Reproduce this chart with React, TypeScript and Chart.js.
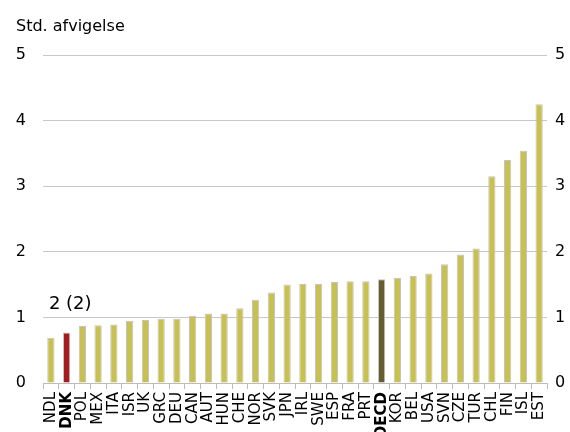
import React, { useEffect, useRef } from "react";
import { Chart, registerables } from "chart.js";

Chart.register(...registerables);

const categories = ["NDL", "DNK", "POL", "MEX", "ITA", "ISR", "UK", "GRC", "DEU", "CAN", "AUT", "HUN", "CHE", "NOR", "SVK", "JPN", "IRL", "SWE", "ESP", "FRA", "PRT", "OECD", "KOR", "BEL", "USA", "SVN", "CZE", "TUR", "CHL", "FIN", "ISL", "EST"];
const values = [0.69, 0.77, 0.87, 0.88, 0.89, 0.95, 0.96, 0.98, 0.98, 1.02, 1.06, 1.06, 1.14, 1.27, 1.38, 1.50, 1.51, 1.51, 1.54, 1.55, 1.55, 1.58, 1.60, 1.63, 1.67, 1.81, 1.96, 2.05, 3.15, 3.40, 3.54, 4.25];
const highlightDK = "DNK";
const highlightOECD = "OECD";
const yTicks = [0, 1, 2, 3, 4, 5];
const yTitle = "Std. afvigelse";
const annotationText = "2 (2)";
const annotationValue = 1.2;

const FONT = "'DejaVu Sans', Verdana, sans-serif";

export default function App() {
  const ref = useRef<HTMLCanvasElement | null>(null);

  useEffect(() => {
    const canvas = ref.current;
    if (!canvas) return;
    const colors = categories.map((c) =>
      c === highlightDK ? "#a51c1f" : c === highlightOECD ? "#655c30" : "#c8c050"
    );
    const overlay = {
      id: "overlay",
      afterDraw(chart: any) {
        const ctx = chart.ctx;
        const x = chart.scales.x;
        const y = chart.scales.y;
        ctx.save();
        ctx.fillStyle = "#000";
        ctx.font = `16px ${FONT}`;
        ctx.textAlign = "left";
        ctx.textBaseline = "alphabetic";
        ctx.fillText(yTitle, 16, 31);
        ctx.font = `18px ${FONT}`;
        ctx.textBaseline = "middle";
        ctx.fillText(annotationText, x.getPixelForValue(0) - 2, y.getPixelForValue(annotationValue));
        ctx.restore();
      },
    };
    const chart = new Chart(canvas, {
      type: "bar",
      data: {
        labels: categories,
        datasets: [
          {
            data: values,
            backgroundColor: colors,
            borderColor: "#c4c4c4",
            borderWidth: 1,
            barPercentage: 0.46,
            categoryPercentage: 1,
            grouped: false,
          },
          {
            data: [],
            yAxisID: "y2",
            grouped: false,
          },
        ],
      },
      options: {
        animation: false,
        responsive: false,
        maintainAspectRatio: false,
        layout: { padding: { top: 55, left: 0, right: 0, bottom: 0 } },
        plugins: { legend: { display: false }, tooltip: { enabled: false }, title: { display: false } },
        scales: {
          x: {
            grid: { drawOnChartArea: false, drawTicks: true, tickLength: 6, color: "#bcbcbc", offset: true },
            border: { display: true, color: "#bcbcbc" },
            ticks: {
              autoSkip: false,
              minRotation: 90,
              maxRotation: 90,
              padding: 3,
              color: "#000",
              font: (ctx: any) => ({
                family: FONT,
                size: 15,
                weight: categories[ctx.index] === highlightDK || categories[ctx.index] === highlightOECD ? "bold" : "normal",
              }),
            },
            afterFit: (s: any) => {
              s.height = 49;
            },
          },
          y: {
            position: "left",
            min: 0,
            max: 5,
            afterBuildTicks: (s: any) => {
              s.ticks = yTicks.map((v) => ({ value: v }));
            },
            grid: { color: "#c8c8c8", drawTicks: false, lineWidth: 1 },
            border: { display: false },
            ticks: { padding: 17, color: "#000", font: { family: FONT, size: 16 } },
            afterFit: (s: any) => {
              s.width = 43;
            },
          },
          y2: {
            position: "right",
            min: 0,
            max: 5,
            afterBuildTicks: (s: any) => {
              s.ticks = yTicks.map((v) => ({ value: v }));
            },
            grid: { display: false, drawTicks: false },
            border: { display: false },
            ticks: { padding: 8, color: "#000", font: { family: FONT, size: 16 } },
            afterFit: (s: any) => {
              s.width = 23;
            },
          },
        },
      },
      plugins: [overlay],
    });
    return () => chart.destroy();
  }, []);

  return (
    <div style={{ position: "fixed", left: 0, top: 0, width: 570, height: 432, background: "#fff" }}>
      <canvas ref={ref} width={570} height={432} style={{ width: 570, height: 432, display: "block" }} />
    </div>
  );
}
